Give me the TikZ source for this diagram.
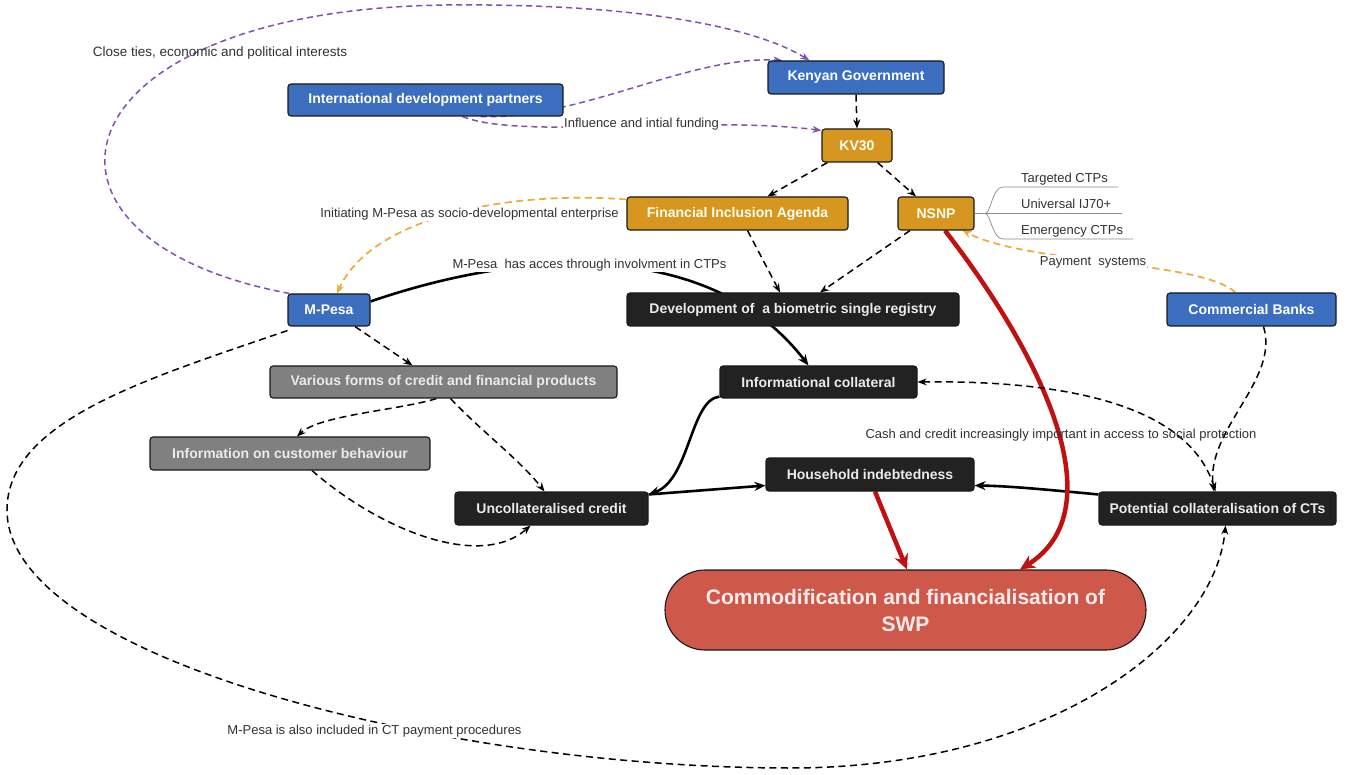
\documentclass[tikz,border=0pt]{standalone}
\usepackage{fontspec}
\setmainfont{Liberation Sans}
\usetikzlibrary{arrows.meta}
\pgfdeclarelayer{bg}
\pgfsetlayers{bg,main}
\definecolor{kblue}{RGB}{59,110,190}
\definecolor{korange}{RGB}{214,150,32}
\definecolor{kdark}{RGB}{34,34,34}
\definecolor{kgray}{RGB}{128,128,128}
\definecolor{kred}{RGB}{206,88,74}
\definecolor{karrowred}{RGB}{192,16,16}
\definecolor{kpurple}{RGB}{130,80,170}
\definecolor{kyellow}{RGB}{236,172,56}
\definecolor{klabel}{RGB}{50,50,50}
\definecolor{kbranch}{RGB}{140,140,140}
\begin{document}
\begin{tikzpicture}[x=1pt,y=-1pt,
  box/.style={draw=black!90, line width=1.1pt, rounded corners=3pt, inner sep=0pt,
    font=\bfseries\fontsize{14}{16}\selectfont, text=white},
  bluebox/.style={box, fill=kblue},
  orangebox/.style={box, fill=korange, text=white!95!yellow},
  darkbox/.style={box, fill=kdark, text=white!92!black},
  graybox/.style={box, fill=kgray, text=white!92!black},
  lbl/.style={font=\fontsize{13}{15}\selectfont, text=klabel, inner sep=1pt},
  wlbl/.style={lbl, fill=white},
  pdash/.style={draw=kpurple, line width=1.5pt, dash pattern=on 6pt off 4pt, -{Stealth[length=9pt,width=7pt]}},
  bdash/.style={draw=black, line width=1.5pt, dash pattern=on 7pt off 4.5pt, -{Stealth[length=9pt,width=7pt]}},
  ydash/.style={draw=kyellow, line width=1.7pt, dash pattern=on 7pt off 4.5pt, -{Stealth[length=9pt,width=7pt]}},
  sarrow/.style={draw=black, line width=2.6pt, -{Stealth[length=11pt,width=9pt]}},
  rarrow/.style={draw=karrowred, line width=4.5pt, -{Stealth[length=15pt,width=14pt]}},
  branch/.style={draw=kbranch, line width=0.7pt}
]
\useasboundingbox (0,0) rectangle (1355,775);

% nodes
\node[bluebox, minimum width=176pt, minimum height=33pt] (gov) at (856,77.5) {Kenyan Government};
\node[bluebox, minimum width=275pt, minimum height=32pt] (idp) at (425.5,100) {International development partners};
\node[orangebox, minimum width=70pt, minimum height=33pt] (kv) at (857,145.5) {KV30};
\node[orangebox, minimum width=221pt, minimum height=33pt] (fia) at (737.5,213.5) {Financial Inclusion Agenda};
\node[orangebox, minimum width=76pt, minimum height=33pt] (nsnp) at (936,213.5) {NSNP};
\node[bluebox, minimum width=82pt, minimum height=32pt] (mpesa) at (329,310) {M-Pesa};
\node[darkbox, minimum width=332pt, minimum height=33pt] (dev) at (793,309.5) {Development of\ \ a biometric single registry};
\node[bluebox, minimum width=169pt, minimum height=33pt] (cb) at (1251.5,309.5) {Commercial Banks};
\node[graybox, minimum width=347pt, minimum height=32pt] (various) at (443.5,382) {Various forms of credit and financial products};
\node[darkbox, minimum width=197pt, minimum height=32pt] (infcol) at (818.5,382) {Informational collateral};
\node[graybox, minimum width=280pt, minimum height=33pt] (cust) at (290,453.5) {Information on customer behaviour};
\node[darkbox, minimum width=208pt, minimum height=33pt] (house) at (870,474.5) {Household indebtedness};
\node[darkbox, minimum width=193pt, minimum height=33pt] (uncol) at (551.5,508.5) {Uncollateralised credit};
\node[darkbox, minimum width=237pt, minimum height=33pt] (pot) at (1217.5,508.5) {Potential collateralisation of CTs};
\node[box, fill=kred, rounded corners=40pt, minimum width=481pt, minimum height=80pt,
  font=\bfseries\fontsize{21}{27}\selectfont, align=center, text=white!92!red] (comm) at (905.5,610)
  {Commodification and financialisation of\\SWP};

% NSNP branches
\coordinate (fork) at (985,213.5);
\node[lbl, anchor=base west] (tctp) at (1020,183) {Targeted CTPs};
\node[lbl, anchor=base west] (uctp) at (1020,209) {Universal IJ70+};
\node[lbl, anchor=base west] (ectp) at (1020,235) {Emergency CTPs};
\draw[branch] (nsnp.east) -- (1122,213.5);
\draw[branch] (fork) .. controls (991,213.5) and (992,187) .. (1003,187) -- (1118,187);
\draw[branch] (fork) .. controls (991,213.5) and (992,239) .. (1003,239) -- (1133,239);

% labels
\node[lbl, font=\fontsize{13.5}{15}\selectfont] (l1) at (220,53) {Close ties, economic and political interests};
\node[wlbl, anchor=west] (l2) at (563,124) {Influence and intial funding};
\node[wlbl] (l3) at (469.5,214) {Initiating M-Pesa as socio-developmental enterprise};
\node[wlbl] (l4) at (589.5,265) {M-Pesa\ \ has acces through involvment in CTPs};
\node[wlbl] (l5) at (1093,262) {Payment\ \ systems};
\node[lbl] (l6) at (1061,435) {Cash and credit increasingly important in access to social protection};
\node[wlbl] (l7) at (374.5,731) {M-Pesa is also included in CT payment procedures};

\begin{pgfonlayer}{bg}
\fill[white] (0,0) rectangle (1355,775);
% purple dashed
\draw[pdash] ([xshift=2pt]mpesa.north west) .. controls (0,240) and (50,10) .. (446,5)
  .. controls (650,3) and (760,30) .. ([xshift=42pt]gov.north west);
\draw[pdash] ([xshift=55pt]idp.south) .. controls (580,120) and (690,55) .. ([xshift=15pt]gov.north west);
\draw[pdash] ([xshift=37pt]idp.south) .. controls (520,140) and (700,115) .. ([yshift=-2pt]kv.north west);
% black dashed hierarchy
\draw[bdash] (gov.south) -- (kv.north);
\draw[bdash] ([xshift=6pt]kv.south west) -- ([xshift=30pt]fia.north);
\draw[bdash] ([xshift=-15pt]kv.south east) -- ([xshift=-20pt]nsnp.north);
\draw[bdash] ([xshift=10pt]fia.south) -- ([xshift=-13pt]dev.north);
\draw[bdash] ([xshift=-26pt]nsnp.south) -- ([xshift=27pt]dev.north);
% orange dashed
\draw[ydash] ([yshift=-3pt]fia.north west) .. controls (500,190) and (370,220) .. ([xshift=8pt]mpesa.north);
\draw[ydash] ([xshift=-16pt]cb.north) .. controls (1200,260) and (1030,265) .. ([xshift=-12pt]nsnp.south east);
% solid black
\draw[sarrow] ([yshift=-8pt]mpesa.north east) .. controls (550,240) and (720,250) .. ([xshift=-10pt]infcol.north);
\draw[sarrow] ([yshift=2pt]infcol.south west) .. controls (690,400) and (690,480) .. ([yshift=-3pt]uncol.north east);
\draw[sarrow] ([yshift=-3pt]uncol.north east) -- ([yshift=-11pt]house.west);
\draw[sarrow] ([yshift=-3pt]pot.north west) .. controls (1050,490) and (1010,486) .. ([yshift=-11pt]house.east);
% red
\draw[rarrow] ([xshift=5pt]house.south) -- ([xshift=1.5pt]comm.north);
\draw[rarrow] ([xshift=9pt]nsnp.south) .. controls (1045,360) and (1115,510) .. ([xshift=114.5pt]comm.north);
% right dashed
\draw[bdash] ([xshift=12pt]cb.south) .. controls (1280,380) and (1205,430) .. ([xshift=-3.5pt]pot.north);
\draw[bdash, {Stealth[length=9pt,width=7pt]}-{Stealth[length=9pt,width=7pt]}] (infcol.east) .. controls (1080,380) and (1190,410) .. ([xshift=-2pt]pot.north);
% M-Pesa side
\draw[bdash] ([xshift=26pt]mpesa.south) -- ([xshift=-31pt]various.north);
\draw[bdash] ([xshift=-7pt]various.south) .. controls (400,410) and (320,415) .. ([xshift=7pt]cust.north);
\draw[bdash] ([xshift=7pt]various.south) .. controls (480,430) and (520,460) .. ([xshift=-7pt]uncol.north);
\draw[bdash] ([xshift=22pt]cust.south) .. controls (380,530) and (480,570) .. ([xshift=-21pt]uncol.south);
% big loop
\draw[bdash] ([yshift=-4pt]mpesa.south west) .. controls (150,378) and (7,420) .. (7,510)
  .. controls (7,660) and (450,768) .. (790,768)
  .. controls (1050,768) and (1215,640) .. ([xshift=8pt]pot.south);
\end{pgfonlayer}
\end{tikzpicture}
\end{document}
